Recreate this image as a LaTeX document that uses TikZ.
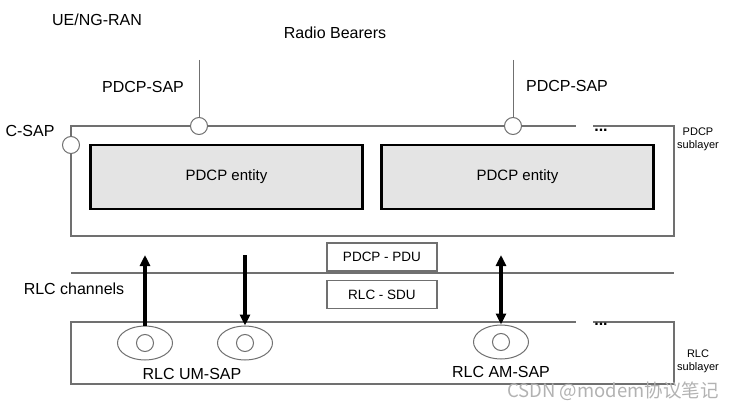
\documentclass[tikz,border=0pt]{standalone}
\usepackage{fontspec}
\setmainfont{Liberation Sans}
\newfontfamily\cjk{Noto Sans CJK SC}
\usetikzlibrary{arrows.meta,shapes.geometric}
\definecolor{frame}{HTML}{707070}
\definecolor{entfill}{HTML}{E4E4E4}
\tikzset{
  entity/.style={draw=black, line width=2.6pt, fill=entfill, minimum width=272pt, minimum height=64pt, inner sep=0pt, font=\fontsize{15}{17}\selectfont},
  sap/.style={circle, draw=frame, line width=1pt, fill=white, minimum size=17pt, inner sep=0pt},
  rlcsap/.style={ellipse, draw=frame, line width=1pt, fill=white, minimum width=55pt, minimum height=34pt, inner sep=0pt},
  innersap/.style={circle, draw=frame, line width=1pt, fill=white, minimum size=17pt, inner sep=0pt},
  lbl/.style={inner sep=0pt, font=\fontsize{16}{18}\selectfont},
  small/.style={inner sep=0pt, align=center, font=\fontsize{11}{13}\selectfont},
  pdubox/.style={draw=frame, line width=1.3pt, minimum width=110pt, minimum height=28pt, inner sep=0pt, font=\fontsize{13.5}{16}\selectfont},
  bearer/.style={draw=frame, line width=1pt},
  flow/.style={line width=3.4pt, black},
  tip/.style={-{Triangle[length=11pt,width=10pt]}},
  dots/.style={inner sep=0pt, font=\bfseries\fontsize{16}{18}\selectfont},
}
\begin{document}
\begin{tikzpicture}[x=1pt,y=-1pt]
\useasboundingbox (0,0) rectangle (737,409);
% titles
\node[lbl] (ue) at (97,20) {UE/NG-RAN};
\node[lbl] (rb) at (335,33) {Radio Bearers};
% PDCP sublayer box
\node[draw=frame, line width=1.3pt, minimum width=603pt, minimum height=110pt, inner sep=0pt] (pdcpbox) at (372.5,181) {};
\fill[white] (576,124) rectangle (593,128);
\node[dots] (pdots) at (601,130) {...};
\node[small] (pdcpsub) at (698,139) {PDCP\\sublayer};
% PDCP entities
\node[entity] (ent1) at (226.5,177) {PDCP entity};
\node[entity] (ent2) at (517.5,177) {PDCP entity};
% PDCP SAPs
\coordinate (b1) at (199,60);
\coordinate (b2) at (513,60);
\node[sap] (sap1) at (199,126) {};
\node[sap] (sap2) at (513,126) {};
\draw[bearer] (b1) -- (sap1.north);
\draw[bearer] (b2) -- (sap2.north);
\node[lbl] (sapl1) at (143,87) {PDCP-SAP};
\node[lbl] (sapl2) at (567,86) {PDCP-SAP};
% C-SAP
\node[sap] (csap) at (71,145) {};
\node[lbl] (csapl) at (30,131) {C-SAP};
% RLC channel line
\coordinate (chl) at (71,273);
\coordinate (chr) at (674,273);
\draw[draw=frame, line width=1.3pt] (chl) -- (chr);
\node[lbl] (rlcch) at (74,289) {RLC channels};
% PDU / SDU boxes
\node[pdubox] (pdu) at (382,257) {PDCP - PDU};
\node[pdubox] (sdu) at (382,294.5) {RLC - SDU};
% RLC sublayer box
\node[draw=frame, line width=1.3pt, minimum width=603pt, minimum height=62pt, inner sep=0pt] (rlcbox) at (372.5,353) {};
\fill[white] (576,320) rectangle (593,324);
\node[dots] (rdots) at (601,324) {...};
\node[small] (rlcsub) at (698,361) {RLC\\sublayer};
% RLC SAPs
\node[rlcsap] (um1) at (145,343) {};
\node[innersap] (um1i) at (145,343) {};
\node[rlcsap] (um2) at (245,343) {};
\node[innersap] (um2i) at (245,343) {};
\node[rlcsap] (am) at (501,342) {};
\node[innersap] (ami) at (501,342) {};
\node[lbl] (uml) at (192,374) {RLC UM-SAP};
\node[lbl] (aml) at (501,372) {RLC AM-SAP};
% flows
\coordinate (up1) at (145,255);
\coordinate (dn2) at (245,255);
\coordinate (am1) at (501,255);
\draw[flow, tip] (um1.north) -- (up1);
\draw[flow, tip] (dn2) -- (um2.north);
\draw[flow, {Triangle[length=11pt,width=10pt]}-{Triangle[length=11pt,width=10pt]}] (am1) -- (am.north);
% watermark
\node[inner sep=0pt, text=black!30, font=\cjk\fontsize{18.5}{21}\selectfont] (wm) at (613,391) {CSDN @modem协议笔记};
\end{tikzpicture}
\end{document}
